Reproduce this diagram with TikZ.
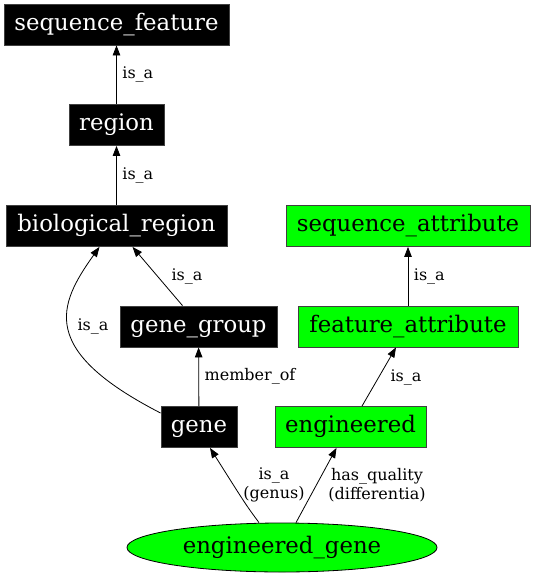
\documentclass[tikz,border=0pt]{standalone}
\usepackage{fontspec}
\setmainfont{DejaVu Serif}
\usetikzlibrary{arrows.meta,shapes.geometric}
\definecolor{lgreen}{HTML}{00FF00}
\begin{document}
\begin{tikzpicture}[x=1pt,y=-1pt,
  box/.style={rectangle,draw=black!75,line width=0.8pt,inner sep=0pt,font=\fontsize{22.8}{25}\selectfont,text height=16pt,text depth=5pt},
  blk/.style={box,fill=black,text=white},
  grn/.style={box,fill=lgreen,text=black},
  edge/.style={draw=black,line width=0.8pt,-{Triangle[length=10pt,width=7.5pt]}},
  lbl/.style={font=\fontsize{16}{18.5}\selectfont,inner sep=0pt,align=center}]
\useasboundingbox (0,0) rectangle (535,576);
\node[blk,minimum width=225pt,minimum height=41pt] (sf) at (116.5,24.5) {sequence\_feature};
\node[blk,minimum width=95pt,minimum height=41pt] (rg) at (116.5,125) {region};
\node[blk,minimum width=221pt,minimum height=41pt] (br) at (116.5,226) {biological\_region};
\node[blk,minimum width=157pt,minimum height=41pt] (gg) at (198.5,326.5) {gene\_group};
\node[blk,minimum width=76pt,minimum height=41pt] (ge) at (199,427) {gene};
\node[grn,minimum width=244pt,minimum height=41pt] (sa) at (408,226) {sequence\_attribute};
\node[grn,minimum width=220pt,minimum height=41pt] (fa) at (408,326.5) {feature\_attribute};
\node[grn,minimum width=151pt,minimum height=41pt] (en) at (350.5,427) {engineered};
\node[ellipse,draw=black,line width=0.8pt,fill=lgreen,minimum width=310pt,minimum height=49pt,inner sep=0pt,font=\fontsize{22.8}{25}\selectfont,text height=16pt,text depth=5pt] (eg) at (282,547.5) {engineered\_gene};
% edges
\draw[edge] (rg) -- (sf) node[lbl,midway,right=5.5pt] {is\_a};
\draw[edge] (br) -- (rg) node[lbl,midway,right=5.5pt] {is\_a};
\draw[edge] (ge.160) .. controls (38,350) and (58,305) .. ([xshift=-17pt]br.south);
\node[lbl] (l1) at (93,326) {is\_a};
\draw[edge] ([xshift=-16pt]gg.north) -- ([xshift=16pt]br.south);
\node[lbl] (l2) at (187,276) {is\_a};
\draw[edge] (ge) -- (gg) node[lbl,midway,right=5.5pt] {member\_of};
\draw[edge] (fa) -- (sa) node[lbl,midway,right=5.5pt] {is\_a};
\draw[edge] ([xshift=11.5pt]en.north) -- ([xshift=-12pt]fa.south);
\node[lbl] (l3) at (406,377) {is\_a};
\draw[edge] ([xshift=-23pt]eg.north) .. controls (246,505) .. ([xshift=11pt]ge.south);
\node[lbl] (l4) at (274,485) {is\_a\\(genus)};
\draw[edge] ([xshift=14pt]eg.north) -- ([xshift=-14pt]en.south);
\node[lbl] (l5) at (377,485) {has\_quality\\(differentia)};
\end{tikzpicture}
\end{document}
